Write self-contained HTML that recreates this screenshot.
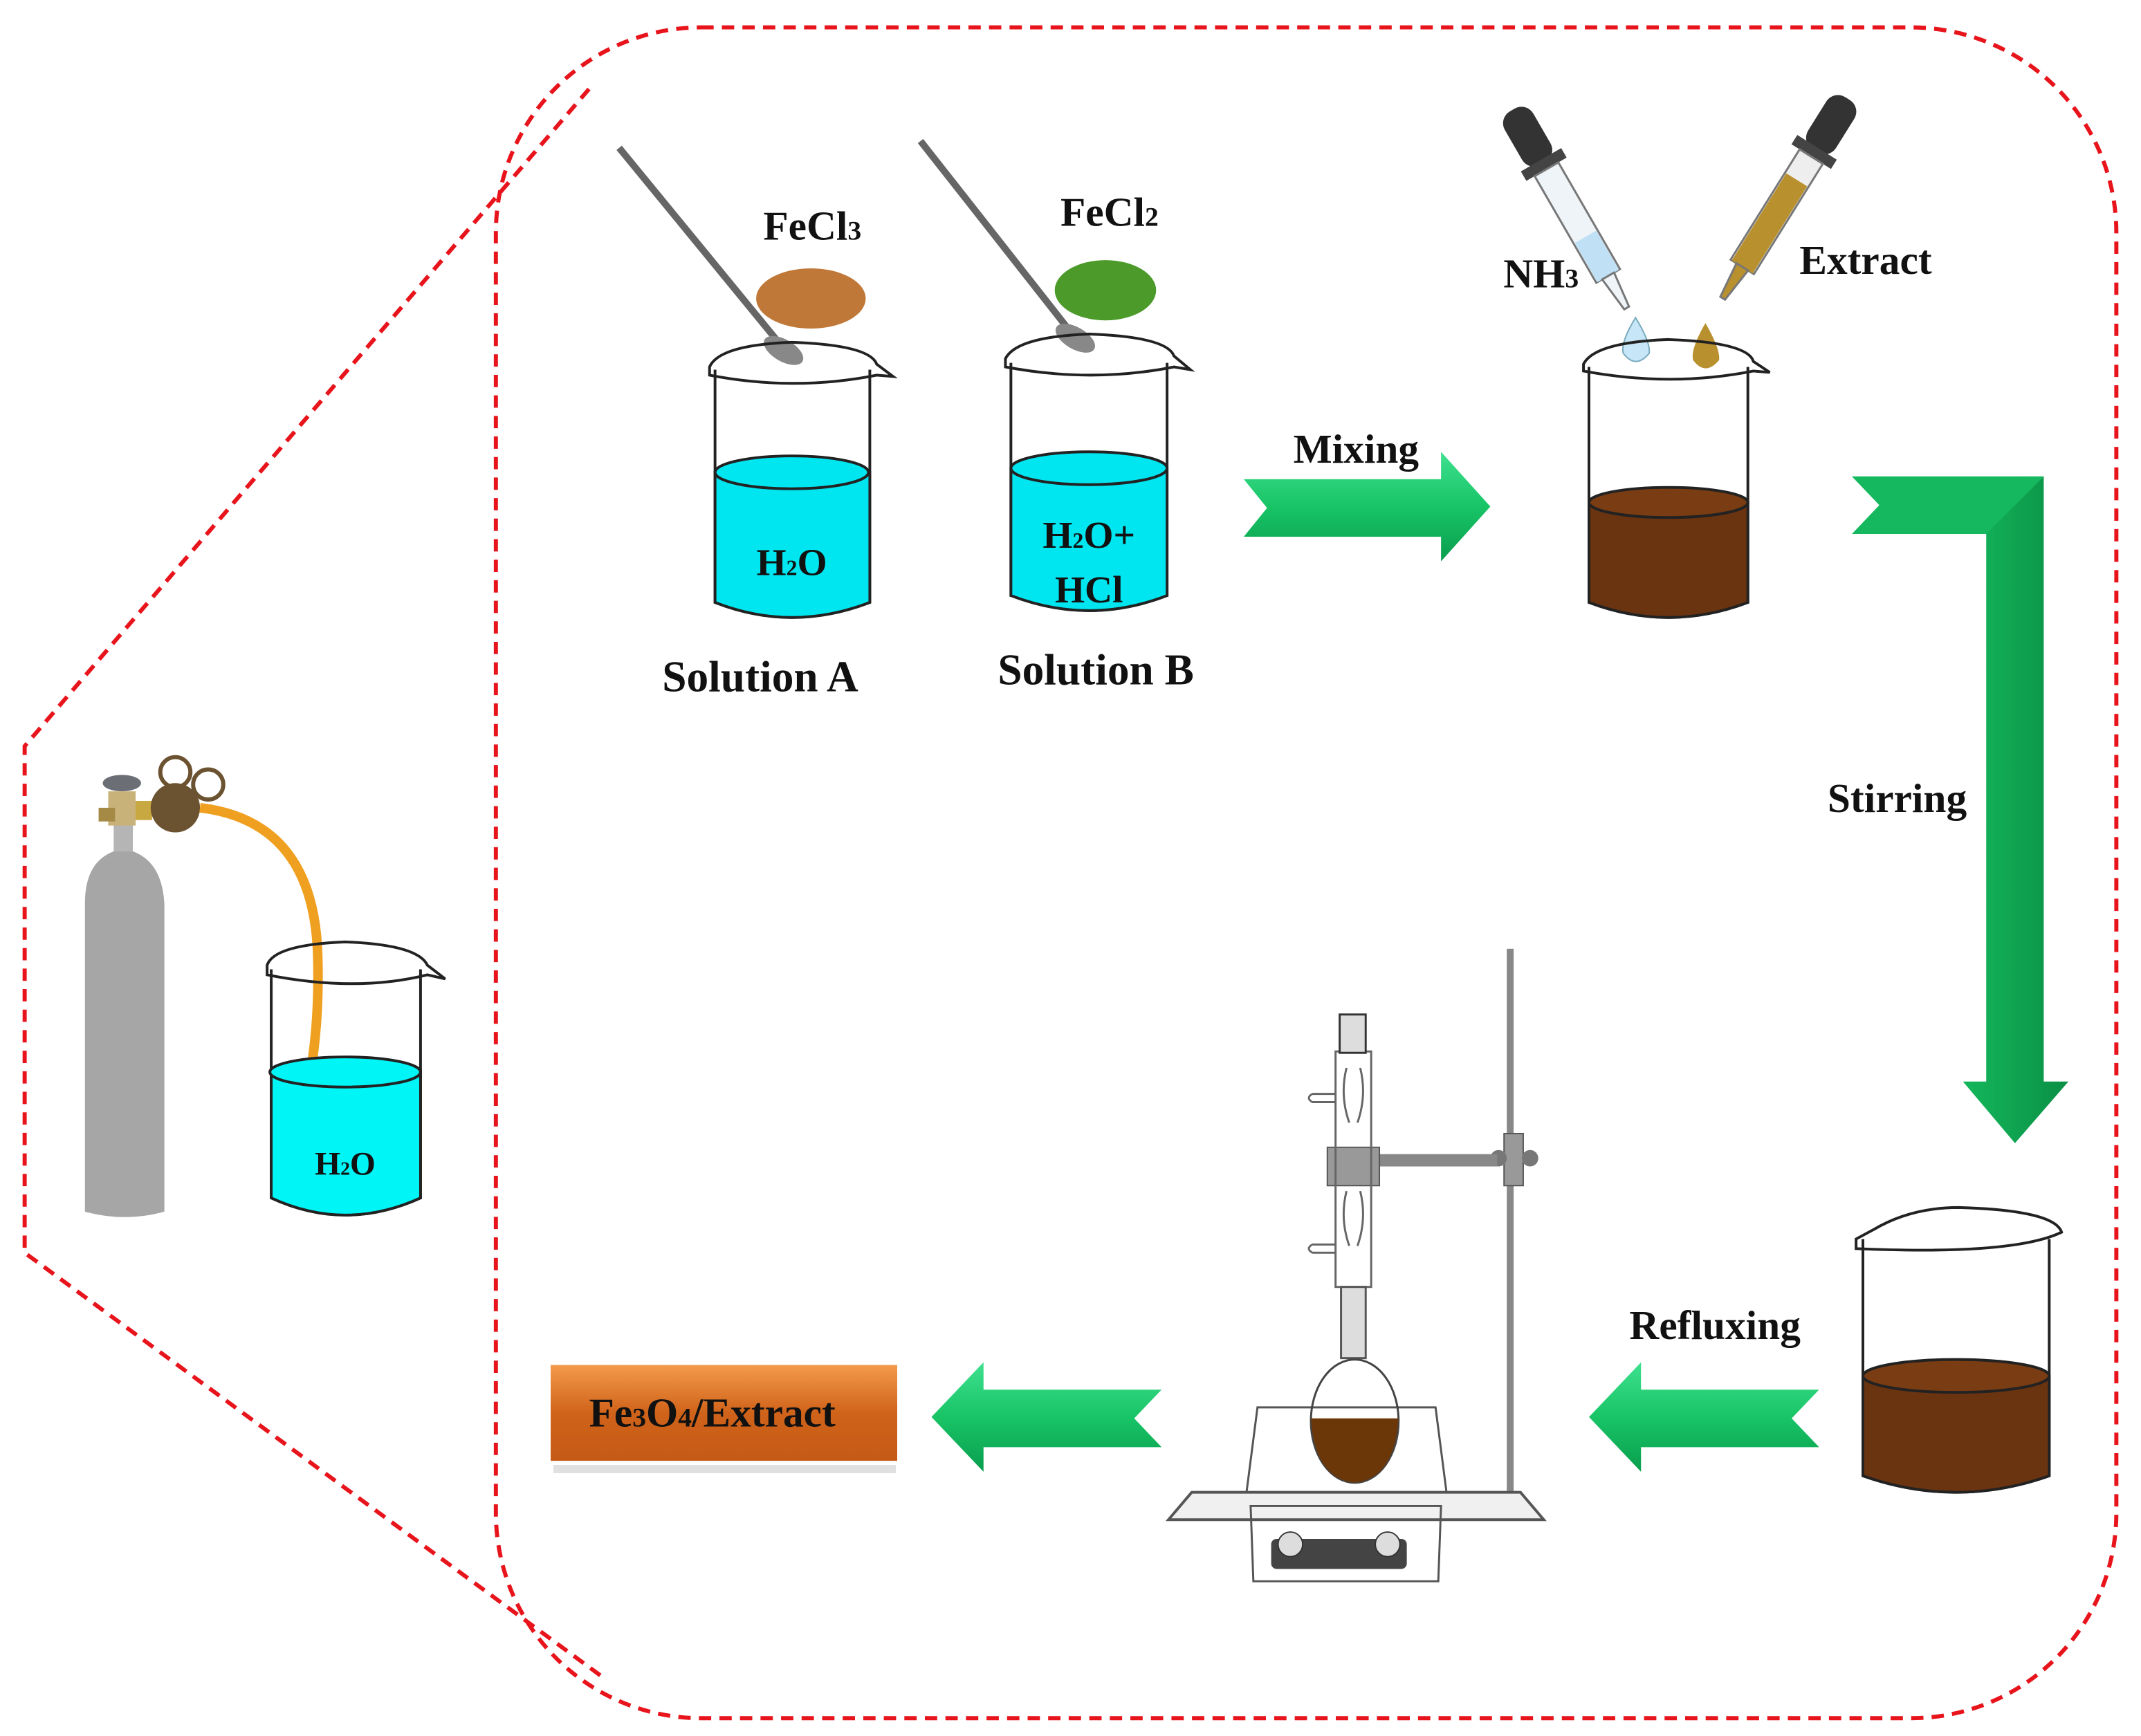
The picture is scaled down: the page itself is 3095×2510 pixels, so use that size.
<!DOCTYPE html>
<html><head><meta charset="utf-8"><style>
html,body{margin:0;padding:0;background:#fff;}
svg{display:block;}
text{font-family:"Liberation Serif",serif;font-weight:bold;fill:#111;}
</style></head><body>
<svg width="3095" height="2510" viewBox="0 0 1563 1268" preserveAspectRatio="none" xmlns="http://www.w3.org/2000/svg">
<defs>
<linearGradient id="gr" x1="0" y1="0" x2="0" y2="1"><stop offset="0" stop-color="#3fe08f"/><stop offset="0.5" stop-color="#18c466"/><stop offset="1" stop-color="#0a9e4e"/></linearGradient>
<linearGradient id="grv" x1="0" y1="0" x2="1" y2="0"><stop offset="0" stop-color="#2ed77f"/><stop offset="0.5" stop-color="#14b85c"/><stop offset="1" stop-color="#0a8f45"/></linearGradient>
<linearGradient id="or" x1="0" y1="0" x2="0" y2="1"><stop offset="0" stop-color="#f39a4a"/><stop offset="0.5" stop-color="#d0631a"/><stop offset="1" stop-color="#c45a16"/></linearGradient>
</defs>

<!-- dashed frame -->
<g fill="none" stroke="#e8141c" stroke-width="3" stroke-dasharray="9,6">
<rect x="362" y="20" width="1183" height="1235" rx="150" ry="150"/>
<polyline points="430,65 18,545 18,915 440,1225"/>
</g>

<!-- left: gas cylinder -->
<path d="M62,885 L62,660 Q62,625 90,620 Q118,625 120,660 L120,885 Q91,893 62,885Z" fill="#a6a6a6"/>
<rect x="83" y="600" width="14" height="22" fill="#b5b5b5"/>
<rect x="79" y="578" width="20" height="25" fill="#c8b27a"/>
<rect x="72" y="590" width="12" height="10" fill="#a58a45"/>
<ellipse cx="89" cy="572" rx="14" ry="6" fill="#6b6f75"/>
<rect x="99" y="585" width="12" height="14" fill="#c8a840"/>
<circle cx="128" cy="590" r="18" fill="#6b5230"/>
<circle cx="128" cy="564" r="11" fill="none" stroke="#6b5230" stroke-width="3"/>
<circle cx="152" cy="573" r="11" fill="none" stroke="#6b5230" stroke-width="3"/>
<path d="M146,590 Q230,600 232,700 Q233,740 228,775" fill="none" stroke="#f0a020" stroke-width="7"/>
<!-- left beaker -->
<g stroke="#222" stroke-width="2">
<path d="M198,708 L198,875 Q252,900 307,875 L307,708" fill="none"/>
<path d="M198,782 L198,875 Q252,900 307,875 L307,782 Z" fill="#00f5f7"/>
<ellipse cx="252" cy="783" rx="55" ry="11" fill="#00f5f7"/>
<path d="M195,705 Q200,690 252,688 Q305,690 312,705 L325,715 L312,712 Q260,725 195,712 Z" fill="none"/>
</g>
<text x="252" y="858" font-size="24" text-anchor="middle">H<tspan font-size="14">2</tspan>O</text>

<!-- spoons -->
<line x1="452" y1="108" x2="570" y2="252" stroke="#666" stroke-width="5"/>
<ellipse cx="572" cy="256" rx="16" ry="8" fill="#888" transform="rotate(30 572 256)"/>
<line x1="672" y1="103" x2="782" y2="243" stroke="#666" stroke-width="5"/>
<ellipse cx="785" cy="247" rx="16" ry="8" fill="#888" transform="rotate(30 785 247)"/>
<!-- powders -->
<ellipse cx="592" cy="218" rx="40" ry="22" fill="#c07838"/>
<ellipse cx="807" cy="212" rx="37" ry="22" fill="#4b9a2a"/>
<text x="593" y="175" font-size="30" text-anchor="middle">FeCl<tspan font-size="20">3</tspan></text>
<text x="810" y="165" font-size="30" text-anchor="middle">FeCl<tspan font-size="20">2</tspan></text>

<!-- beaker A -->
<g stroke="#222" stroke-width="2">
<path d="M522,270 L522,440 Q578,462 635,440 L635,270" fill="none"/>
<path d="M522,345 L522,440 Q578,462 635,440 L635,345 Z" fill="#00e6f0"/>
<ellipse cx="578" cy="345" rx="56" ry="12" fill="#00e6f0"/>
<path d="M518,268 Q525,252 578,250 Q635,252 640,266 L652,275 L640,274 Q580,286 518,274 Z" fill="none"/>
</g>
<text x="578" y="420" font-size="28" text-anchor="middle">H<tspan font-size="16">2</tspan>O</text>
<text x="555" y="505" font-size="32" text-anchor="middle">Solution A</text>

<!-- beaker B -->
<g stroke="#222" stroke-width="2">
<path d="M738,265 L738,435 Q795,457 852,435 L852,265" fill="none"/>
<path d="M738,342 L738,435 Q795,457 852,435 L852,342 Z" fill="#00e6f0"/>
<ellipse cx="795" cy="342" rx="57" ry="12" fill="#00e6f0"/>
<path d="M734,262 Q742,246 795,244 Q852,246 857,260 L869,270 L857,268 Q797,280 734,268 Z" fill="none"/>
</g>
<text x="795" y="400" font-size="28" text-anchor="middle">H<tspan font-size="16">2</tspan>O+</text>
<text x="795" y="440" font-size="28" text-anchor="middle">HCl</text>
<text x="800" y="500" font-size="32" text-anchor="middle">Solution B</text>

<!-- Mixing arrow -->
<path d="M908,350 L1052,350 L1052,330 L1088,370 L1052,410 L1052,392 L908,392 L925,371 Z" fill="url(#gr)"/>
<text x="990" y="338" font-size="30" text-anchor="middle">Mixing</text>

<!-- droppers -->
<g transform="rotate(-30 1150 160)">
<rect x="1138" y="68" width="24" height="45" rx="10" fill="#333"/>
<rect x="1133" y="110" width="34" height="8" fill="#444"/>
<rect x="1140" y="118" width="20" height="90" fill="#eef4f8" stroke="#777" stroke-width="1.5"/>
<rect x="1141" y="175" width="18" height="33" fill="#bfe0f5"/>
<path d="M1145,208 L1155,208 L1152,235 L1148,235 Z" fill="#eef4f8" stroke="#777" stroke-width="1.5"/>
</g>
<path d="M1194,232 Q1183,250 1185,258 Q1194,270 1204,258 Q1205,250 1194,232Z" fill="#c7e6f7" stroke="#7ab" stroke-width="1"/>
<g transform="rotate(32 1300 150)">
<rect x="1288" y="58" width="24" height="45" rx="10" fill="#333"/>
<rect x="1283" y="100" width="34" height="8" fill="#444"/>
<rect x="1290" y="108" width="20" height="95" fill="#eee" stroke="#777" stroke-width="1.5"/>
<rect x="1291" y="128" width="18" height="75" fill="#b8902e"/>
<path d="M1295,203 L1305,203 L1302,230 L1298,230 Z" fill="#b8902e" stroke="#777" stroke-width="1.5"/>
</g>
<path d="M1245,236 Q1234,255 1236,263 Q1245,275 1255,263 Q1256,255 1245,236Z" fill="#b8902e"/>
<text x="1125" y="210" font-size="30" text-anchor="middle">NH<tspan font-size="20">3</tspan></text>
<text x="1362" y="200" font-size="30" text-anchor="middle">Extract</text>

<!-- beaker top right -->
<g stroke="#222" stroke-width="2">
<path d="M1160,268 L1160,440 Q1218,462 1276,440 L1276,268" fill="none"/>
<path d="M1160,367 L1160,440 Q1218,462 1276,440 L1276,367 Z" fill="#6b3410"/>
<ellipse cx="1218" cy="367" rx="58" ry="11" fill="#7a3c12"/>
<path d="M1156,266 Q1164,250 1218,248 Q1276,250 1280,264 L1292,272 L1280,271 Q1220,283 1156,271 Z" fill="none"/>
</g>

<!-- L arrow (Stirring) -->
<path d="M1352,348 L1492,348 L1492,790 L1510,790 L1471,835 L1433,790 L1450,790 L1450,390 L1352,390 L1372,369 Z" fill="url(#grv)"/>
<path d="M1352,348 L1492,348 L1450,390 L1352,390 L1372,369 Z" fill="#16b85f"/>
<text x="1385" y="593" font-size="30" text-anchor="middle">Stirring</text>

<!-- beaker lower right -->
<g stroke="#222" stroke-width="2">
<path d="M1360,905 L1360,1078 Q1428,1102 1496,1078 L1496,905" fill="none"/>
<path d="M1360,1005 L1360,1078 Q1428,1102 1496,1078 L1496,1005 Z" fill="#6b3410"/>
<ellipse cx="1428" cy="1005" rx="68" ry="12" fill="#7a3c12"/>
<path d="M1355,905 L1368,898 Q1395,882 1430,882 Q1500,884 1505,900 Q1470,917 1355,912 Z" fill="none"/>
</g>

<!-- Refluxing arrow -->
<path d="M1328,1015 L1198,1015 L1198,995 L1160,1035 L1198,1075 L1198,1057 L1328,1057 L1308,1036 Z" fill="url(#gr)"/>
<text x="1252" y="978" font-size="30" text-anchor="middle">Refluxing</text>

<!-- apparatus -->
<rect x="1100" y="693" width="5" height="400" fill="#888"/>
<path d="M853,1110 L870,1090 L1110,1090 L1127,1110 Z" fill="#f0f0f0" stroke="#555" stroke-width="2"/>
<rect x="1098" y="828" width="14" height="38" fill="#999" stroke="#555"/>
<circle cx="1094" cy="846" r="6" fill="#777"/><circle cx="1117" cy="846" r="6" fill="#777"/>
<rect x="1007" y="843" width="86" height="9" fill="#888"/>
<path d="M969,838 L1007,838 L1007,866 L969,866 Z" fill="#999" stroke="#555"/>
<g fill="none" stroke="#666" stroke-width="1.5">
<rect x="975" y="768" width="26" height="172"/>
<path d="M975,799 L958,799 M975,805 L958,805 M958,799 Q953,802 958,805"/>
<path d="M975,909 L958,909 M975,915 L958,915 M958,909 Q953,912 958,915"/>
<path d="M983,780 Q978,800 985,820 M993,780 Q998,800 991,820 M983,870 Q978,890 985,910 M993,870 Q998,890 991,910"/>
</g>
<rect x="978" y="741" width="19" height="28" fill="#ddd" stroke="#333" stroke-width="1.5"/>
<rect x="979" y="940" width="18" height="52" fill="#ddd" stroke="#555" stroke-width="1.5"/>
<path d="M918,1028 L1048,1028 L1056,1090 L910,1090 Z" fill="none" stroke="#555" stroke-width="1.5"/>
<ellipse cx="989" cy="1038" rx="32" ry="45" fill="none" stroke="#444" stroke-width="1.5"/>
<path d="M957,1036 L1021,1036 Q1018,1080 989,1083 Q960,1080 957,1036Z" fill="#6b3608"/>
<path d="M913,1100 L1052,1100 L1050,1155 L915,1155 Z" fill="none" stroke="#555" stroke-width="1.5"/>
<rect x="928" y="1124" width="99" height="22" rx="4" fill="#444"/>
<circle cx="942" cy="1128" r="9" fill="#ddd" stroke="#333"/>
<circle cx="1013" cy="1128" r="9" fill="#ddd" stroke="#333"/>

<!-- left arrow -->
<path d="M848,1015 L718,1015 L718,995 L680,1035 L718,1075 L718,1057 L848,1057 L828,1036 Z" fill="url(#gr)"/>

<!-- product box -->
<rect x="404" y="1070" width="250" height="6" fill="#ccc" opacity="0.6"/>
<rect x="402" y="997" width="253" height="70" fill="url(#or)"/>
<text x="520" y="1042" font-size="30" text-anchor="middle">Fe<tspan font-size="20">3</tspan>O<tspan font-size="20">4</tspan>/Extract</text>
</svg>
</body></html>
